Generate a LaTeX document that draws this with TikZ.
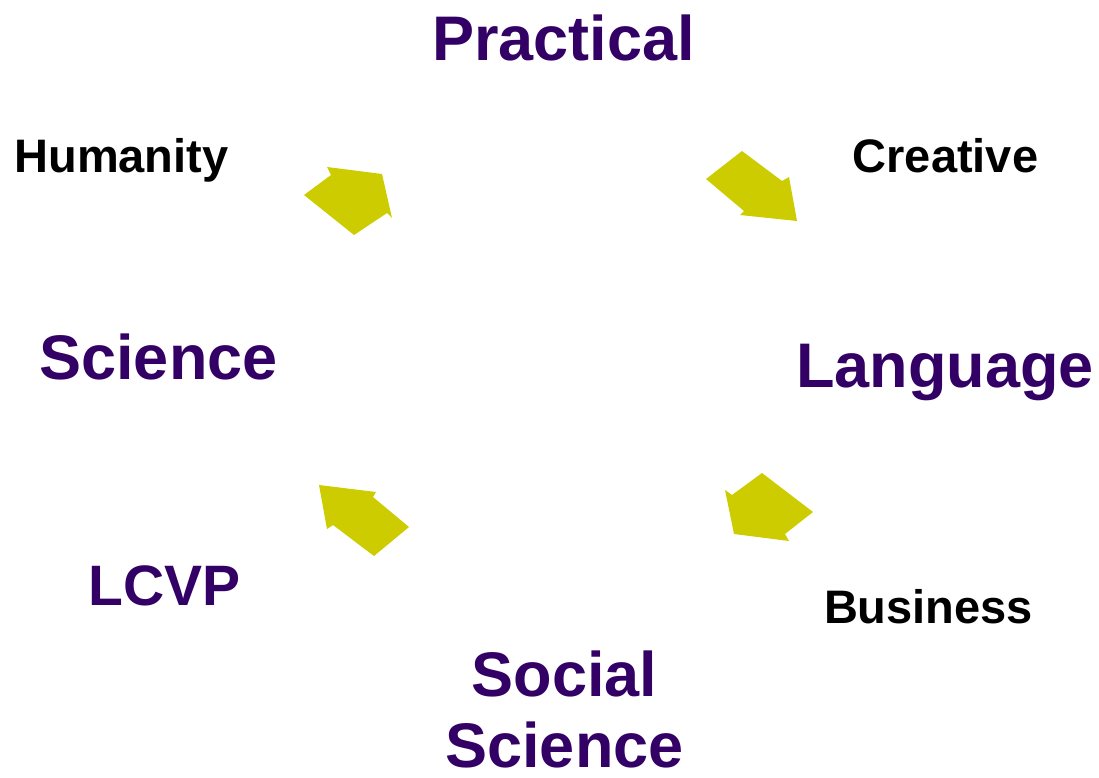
\documentclass[tikz,border=0pt]{standalone}
\usepackage{fontspec}
\setmainfont{Liberation Sans}
\definecolor{sub}{RGB}{51,0,102}
\definecolor{arr}{RGB}{204,204,0}
\begin{document}
\begin{tikzpicture}[x=1pt,y=-1pt,
  big/.style={anchor=base,inner sep=0pt,text=sub,font=\bfseries\fontsize{63}{75}\selectfont,align=center},
  small/.style={anchor=base,inner sep=0pt,text=black,font=\bfseries\fontsize{47}{55}\selectfont},
  blockarrow/.style={fill=arr,draw=none}]
\useasboundingbox (0,0) rectangle (1099,778);
\node[big] (practical) at (563.5,61) {Practical};
\node[big] (science) at (158.5,379) {Science};
\node[big] (language) at (945,387) {Language};
\node[big,font=\bfseries\fontsize{57}{67}\selectfont] (lcvp) at (165,605) {LCVP};
\node[big] (social) at (564.5,696) {Social};
\node[big] (socsci) at (564.5,767) {Science};
\node[small] (humanity) at (121.5,173) {Humanity};
\node[small] (creative) at (945.5,173) {Creative};
\node[small] (business) at (928.5,623) {Business};
% block arrows
\fill[blockarrow] (304,195) -- (331,175) -- (327,167) -- (382,174) -- (392,218) -- (387,213) -- (354,235) -- cycle;
\fill[blockarrow] (706,179) -- (742,151) -- (782,181) -- (789,177) -- (797,221) -- (740,215) -- (744,211) -- cycle;
\fill[blockarrow] (725,490) -- (732,495) -- (762,473) -- (813,512) -- (785,534) -- (789,541) -- (734,534) -- cycle;
\fill[blockarrow] (319,485) -- (376,492) -- (373,497) -- (409,527) -- (374,556) -- (333,525) -- (327,529) -- cycle;
\end{tikzpicture}
\end{document}
